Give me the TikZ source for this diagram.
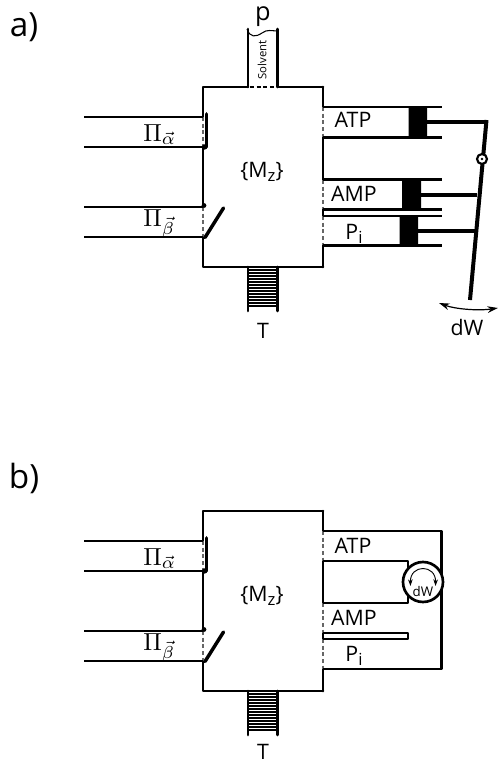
\documentclass[tikz,border=0pt]{standalone}
\usepackage{fontspec}
\setmainfont{Open Sans}
\usetikzlibrary{arrows.meta}
\newcommand{\subtxt}[1]{\raisebox{-3.2pt}{\fontsize{12.5}{13}\selectfont #1}}
\begin{document}
\begin{tikzpicture}[x=0.75pt,y=-0.75pt,
  wall/.style={line width=2pt,line cap=round,line join=round,black},
  pipe/.style={line width=1.8pt,black},
  port/.style={line width=0.8pt,dash pattern=on 3pt off 2pt,black!60},
  lbl/.style={inner sep=0pt,font=\fontsize{16}{18}\selectfont},
  greek/.style={inner sep=0pt,anchor=base west},
  vessel/.pic={
    \draw[wall] (248,87) -- (203,87) -- (203,117)
      (203,147) -- (203,207) (203,237) -- (203,267) -- (323,267);
    \draw[port] (203,117) -- (203,147) (203,207) -- (203,237);
    \draw[pipe] (84,117) -- (203,117) (84,147) -- (203,147)
      (84,207) -- (203,207) (84,237) -- (203,237);
    \draw[line width=2.8pt,line cap=round] (206.5,114) -- (206.5,147);
    \fill (204.5,147) circle (2pt) (204,205.5) circle (1.8pt);
    \draw[line width=2.6pt,line cap=round] (205,237.5) -- (223.5,208);
    \draw[wall] (248,267) -- (248,311) (277.5,267) -- (277.5,311);
    \foreach \y in {270,273,...,306} \draw[line width=1.4pt] (248,\y) -- (277.5,\y);
    \node[lbl] (mz) at (262,172) {\{M\subtxt{z}\}};
    \node[greek] (pa) at (143,141) {\scalebox{1.85}{$\Pi_{\vec\alpha}$}};
    \node[greek] (pb) at (143,226) {\scalebox{1.85}{$\Pi_{\vec\beta}$}};
  }]
\useasboundingbox (0,0) rectangle (498,761);
\node[inner sep=0pt,font=\fontsize{25}{27}\selectfont] (la) at (24,27) {a)};
\node[inner sep=0pt,font=\fontsize{25}{27}\selectfont] (lb) at (24,478) {b)};
% panel a
\pic at (0,0) {vessel};
\draw[wall] (323,87) -- (277.5,87);
\draw[wall] (248,87) -- (248,29) (277.5,87) -- (277.5,29);
\draw[line width=0.8pt] (247,29) .. controls (250,38) and (256,37) .. (262,33) .. controls (267,29) and (272,31) .. (278,31);
\draw[line width=0.8pt,dash pattern=on 3pt off 2pt] (250,87) -- (276,87);
\node[inner sep=0pt,rotate=90,font=\fontsize{8.5}{10}\selectfont] (sol) at (262,60) {Solvent};
\node[inner sep=0pt,font=\fontsize{19}{21}\selectfont] (p) at (263,17) {p};
\node[lbl] (ta) at (263,331) {T};
\draw[wall] (323,87) -- (323,107) (323,137) -- (323,180) (323,209) -- (323,216) (323,245) -- (323,267);
\draw[port] (323,107) -- (323,137) (323,180) -- (323,209) (323,216) -- (323,245);
\draw[pipe] (323,107) -- (442,107) (323,137.5) -- (442,137.5)
  (323,179.5) -- (442,179.5) (323,209.5) -- (442,209.5)
  (323,216) -- (442,216) (323,245.5) -- (442,245.5);
\fill (408.5,107) rectangle (427,137.5) (402,179.5) rectangle (421,209.5) (399.5,216) rectangle (418,245.5);
\draw[line width=3pt] (427,122) -- (487,122) (421,195) -- (477,195) (418,231) -- (476,231);
\draw[line width=3pt] (486.5,120) -- (470,300);
\node[circle,draw,line width=1.6pt,fill=white,minimum size=7.5pt,inner sep=0pt] (piv) at (482,159) {};
\fill (piv.center) circle (1.1pt);
\node[lbl] (atpa) at (353,120) {ATP};
\node[lbl] (ampa) at (354,194) {AMP};
\node[lbl] (pia) at (354,234) {P\subtxt{i}};
\coordinate (dl) at (439,303); \coordinate (dr) at (498,308);
\draw[line width=0.9pt,{Stealth[length=8pt,width=5pt]}-{Stealth[length=8pt,width=5pt]}] (dl) .. controls (455,309) and (478,311) .. (dr);
\node[lbl] (dw) at (467,327) {dW};
% panel b
\pic at (0,424) {vessel};
\draw[wall] (248,511) -- (323,511);
\node[lbl] (tb) at (263,752) {T};
\draw[wall] (323,511) -- (323,531) (323,561) -- (323,603) (323,633) -- (323,639) (323,669) -- (323,691);
\draw[port] (323,531) -- (323,561) (323,603) -- (323,633) (323,639) -- (323,669);
\draw[pipe,line join=round] (323,531) -- (441.5,531) -- (441.5,669) -- (323,669);
\draw[pipe,line join=round] (323,561) -- (408,561) -- (408,570);
\draw[pipe,line join=round] (323,603) -- (408,603) -- (408,594);
\node[circle,draw,line width=2pt,fill=white,minimum size=30pt,inner sep=0pt] (eng) at (423,582) {};
\draw[pipe,line join=round] (323,633) -- (408,633) -- (408,639) -- (323,639);
\draw[line width=0.7pt,{Stealth[length=5pt,width=3.5pt]}-{Stealth[length=5pt,width=3.5pt]}] (410.5,586) .. controls (410,564) and (436,564) .. (435.5,586);
\node[inner sep=0pt,font=\fontsize{10}{11}\selectfont] (dwb) at (423,591) {dW};
\node[lbl] (atpb) at (353,546) {ATP};
\node[lbl] (ampb) at (354,618) {AMP};
\node[lbl] (pib) at (354,656) {P\subtxt{i}};
\end{tikzpicture}
\end{document}
